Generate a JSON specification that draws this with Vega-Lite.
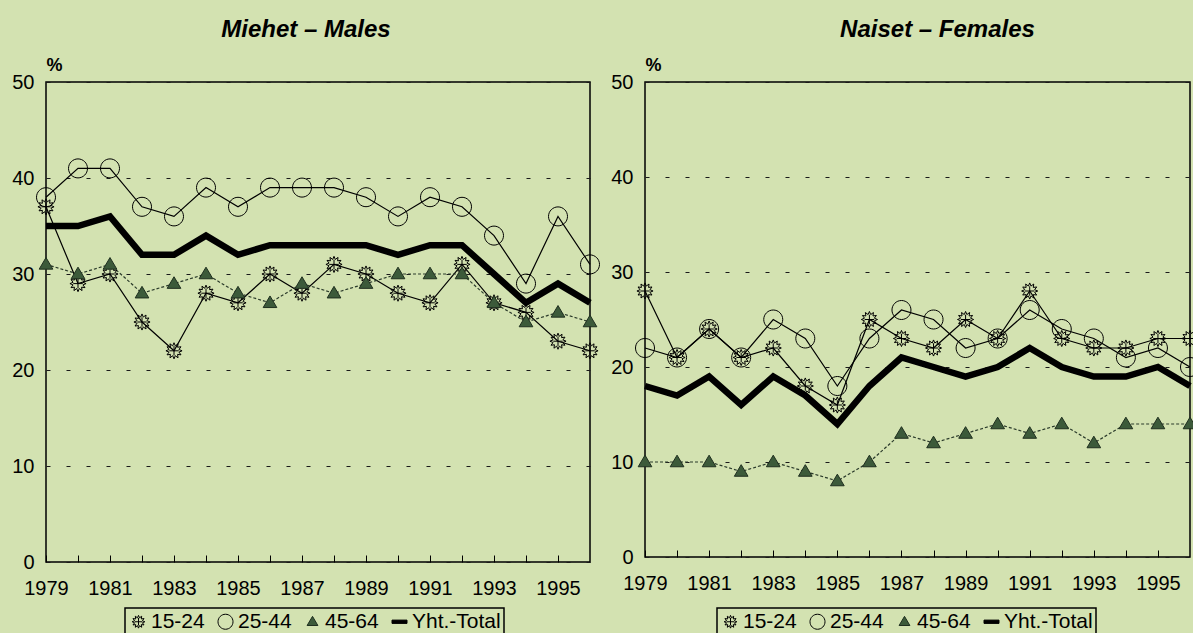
{
  "$schema": "https://vega.github.io/schema/vega-lite/v6.json",
  "background": "#d3e2b1",
  "padding": {"left": 11, "top": 17, "right": 0, "bottom": 0},
  "spacing": 6,
  "config": {
    "font": "Liberation Sans",
    "view": {"stroke": "#000000", "strokeWidth": 1.5},
    "legend": {"orient": "none", "direction": "horizontal", "strokeColor": "#000000", "strokeWidth": 1.5, "padding": 3, "labelFontSize": 21, "labelColor": "#000000", "labelOffset": 2, "columnPadding": 10, "symbolSize": 225, "symbolStrokeColor": "#000000", "symbolStrokeWidth": 1, "title": null},
    "title": {"font": "Liberation Sans", "fontStyle": "italic", "fontWeight": "bold", "fontSize": 24, "color": "#000000", "anchor": "middle", "frame": "group", "offset": 14}
  },
  "datasets": {
    "rows": [
      {"sex":"M","year":1979,"group":"15-24","value":37},{"sex":"M","year":1980,"group":"15-24","value":29},{"sex":"M","year":1981,"group":"15-24","value":30},{"sex":"M","year":1982,"group":"15-24","value":25},{"sex":"M","year":1983,"group":"15-24","value":22},{"sex":"M","year":1984,"group":"15-24","value":28},{"sex":"M","year":1985,"group":"15-24","value":27},{"sex":"M","year":1986,"group":"15-24","value":30},{"sex":"M","year":1987,"group":"15-24","value":28},{"sex":"M","year":1988,"group":"15-24","value":31},{"sex":"M","year":1989,"group":"15-24","value":30},{"sex":"M","year":1990,"group":"15-24","value":28},{"sex":"M","year":1991,"group":"15-24","value":27},{"sex":"M","year":1992,"group":"15-24","value":31},{"sex":"M","year":1993,"group":"15-24","value":27},{"sex":"M","year":1994,"group":"15-24","value":26},{"sex":"M","year":1995,"group":"15-24","value":23},{"sex":"M","year":1996,"group":"15-24","value":22},
      {"sex":"M","year":1979,"group":"25-44","value":38},{"sex":"M","year":1980,"group":"25-44","value":41},{"sex":"M","year":1981,"group":"25-44","value":41},{"sex":"M","year":1982,"group":"25-44","value":37},{"sex":"M","year":1983,"group":"25-44","value":36},{"sex":"M","year":1984,"group":"25-44","value":39},{"sex":"M","year":1985,"group":"25-44","value":37},{"sex":"M","year":1986,"group":"25-44","value":39},{"sex":"M","year":1987,"group":"25-44","value":39},{"sex":"M","year":1988,"group":"25-44","value":39},{"sex":"M","year":1989,"group":"25-44","value":38},{"sex":"M","year":1990,"group":"25-44","value":36},{"sex":"M","year":1991,"group":"25-44","value":38},{"sex":"M","year":1992,"group":"25-44","value":37},{"sex":"M","year":1993,"group":"25-44","value":34},{"sex":"M","year":1994,"group":"25-44","value":29},{"sex":"M","year":1995,"group":"25-44","value":36},{"sex":"M","year":1996,"group":"25-44","value":31},
      {"sex":"M","year":1979,"group":"45-64","value":31},{"sex":"M","year":1980,"group":"45-64","value":30},{"sex":"M","year":1981,"group":"45-64","value":31},{"sex":"M","year":1982,"group":"45-64","value":28},{"sex":"M","year":1983,"group":"45-64","value":29},{"sex":"M","year":1984,"group":"45-64","value":30},{"sex":"M","year":1985,"group":"45-64","value":28},{"sex":"M","year":1986,"group":"45-64","value":27},{"sex":"M","year":1987,"group":"45-64","value":29},{"sex":"M","year":1988,"group":"45-64","value":28},{"sex":"M","year":1989,"group":"45-64","value":29},{"sex":"M","year":1990,"group":"45-64","value":30},{"sex":"M","year":1991,"group":"45-64","value":30},{"sex":"M","year":1992,"group":"45-64","value":30},{"sex":"M","year":1993,"group":"45-64","value":27},{"sex":"M","year":1994,"group":"45-64","value":25},{"sex":"M","year":1995,"group":"45-64","value":26},{"sex":"M","year":1996,"group":"45-64","value":25},
      {"sex":"M","year":1979,"group":"Yht.-Total","value":35},{"sex":"M","year":1980,"group":"Yht.-Total","value":35},{"sex":"M","year":1981,"group":"Yht.-Total","value":36},{"sex":"M","year":1982,"group":"Yht.-Total","value":32},{"sex":"M","year":1983,"group":"Yht.-Total","value":32},{"sex":"M","year":1984,"group":"Yht.-Total","value":34},{"sex":"M","year":1985,"group":"Yht.-Total","value":32},{"sex":"M","year":1986,"group":"Yht.-Total","value":33},{"sex":"M","year":1987,"group":"Yht.-Total","value":33},{"sex":"M","year":1988,"group":"Yht.-Total","value":33},{"sex":"M","year":1989,"group":"Yht.-Total","value":33},{"sex":"M","year":1990,"group":"Yht.-Total","value":32},{"sex":"M","year":1991,"group":"Yht.-Total","value":33},{"sex":"M","year":1992,"group":"Yht.-Total","value":33},{"sex":"M","year":1993,"group":"Yht.-Total","value":30},{"sex":"M","year":1994,"group":"Yht.-Total","value":27},{"sex":"M","year":1995,"group":"Yht.-Total","value":29},{"sex":"M","year":1996,"group":"Yht.-Total","value":27},
      {"sex":"F","year":1979,"group":"15-24","value":28},{"sex":"F","year":1980,"group":"15-24","value":21},{"sex":"F","year":1981,"group":"15-24","value":24},{"sex":"F","year":1982,"group":"15-24","value":21},{"sex":"F","year":1983,"group":"15-24","value":22},{"sex":"F","year":1984,"group":"15-24","value":18},{"sex":"F","year":1985,"group":"15-24","value":16},{"sex":"F","year":1986,"group":"15-24","value":25},{"sex":"F","year":1987,"group":"15-24","value":23},{"sex":"F","year":1988,"group":"15-24","value":22},{"sex":"F","year":1989,"group":"15-24","value":25},{"sex":"F","year":1990,"group":"15-24","value":23},{"sex":"F","year":1991,"group":"15-24","value":28},{"sex":"F","year":1992,"group":"15-24","value":23},{"sex":"F","year":1993,"group":"15-24","value":22},{"sex":"F","year":1994,"group":"15-24","value":22},{"sex":"F","year":1995,"group":"15-24","value":23},{"sex":"F","year":1996,"group":"15-24","value":23},
      {"sex":"F","year":1979,"group":"25-44","value":22},{"sex":"F","year":1980,"group":"25-44","value":21},{"sex":"F","year":1981,"group":"25-44","value":24},{"sex":"F","year":1982,"group":"25-44","value":21},{"sex":"F","year":1983,"group":"25-44","value":25},{"sex":"F","year":1984,"group":"25-44","value":23},{"sex":"F","year":1985,"group":"25-44","value":18},{"sex":"F","year":1986,"group":"25-44","value":23},{"sex":"F","year":1987,"group":"25-44","value":26},{"sex":"F","year":1988,"group":"25-44","value":25},{"sex":"F","year":1989,"group":"25-44","value":22},{"sex":"F","year":1990,"group":"25-44","value":23},{"sex":"F","year":1991,"group":"25-44","value":26},{"sex":"F","year":1992,"group":"25-44","value":24},{"sex":"F","year":1993,"group":"25-44","value":23},{"sex":"F","year":1994,"group":"25-44","value":21},{"sex":"F","year":1995,"group":"25-44","value":22},{"sex":"F","year":1996,"group":"25-44","value":20},
      {"sex":"F","year":1979,"group":"45-64","value":10},{"sex":"F","year":1980,"group":"45-64","value":10},{"sex":"F","year":1981,"group":"45-64","value":10},{"sex":"F","year":1982,"group":"45-64","value":9},{"sex":"F","year":1983,"group":"45-64","value":10},{"sex":"F","year":1984,"group":"45-64","value":9},{"sex":"F","year":1985,"group":"45-64","value":8},{"sex":"F","year":1986,"group":"45-64","value":10},{"sex":"F","year":1987,"group":"45-64","value":13},{"sex":"F","year":1988,"group":"45-64","value":12},{"sex":"F","year":1989,"group":"45-64","value":13},{"sex":"F","year":1990,"group":"45-64","value":14},{"sex":"F","year":1991,"group":"45-64","value":13},{"sex":"F","year":1992,"group":"45-64","value":14},{"sex":"F","year":1993,"group":"45-64","value":12},{"sex":"F","year":1994,"group":"45-64","value":14},{"sex":"F","year":1995,"group":"45-64","value":14},{"sex":"F","year":1996,"group":"45-64","value":14},
      {"sex":"F","year":1979,"group":"Yht.-Total","value":18},{"sex":"F","year":1980,"group":"Yht.-Total","value":17},{"sex":"F","year":1981,"group":"Yht.-Total","value":19},{"sex":"F","year":1982,"group":"Yht.-Total","value":16},{"sex":"F","year":1983,"group":"Yht.-Total","value":19},{"sex":"F","year":1984,"group":"Yht.-Total","value":17},{"sex":"F","year":1985,"group":"Yht.-Total","value":14},{"sex":"F","year":1986,"group":"Yht.-Total","value":18},{"sex":"F","year":1987,"group":"Yht.-Total","value":21},{"sex":"F","year":1988,"group":"Yht.-Total","value":20},{"sex":"F","year":1989,"group":"Yht.-Total","value":19},{"sex":"F","year":1990,"group":"Yht.-Total","value":20},{"sex":"F","year":1991,"group":"Yht.-Total","value":22},{"sex":"F","year":1992,"group":"Yht.-Total","value":20},{"sex":"F","year":1993,"group":"Yht.-Total","value":19},{"sex":"F","year":1994,"group":"Yht.-Total","value":19},{"sex":"F","year":1995,"group":"Yht.-Total","value":20},{"sex":"F","year":1996,"group":"Yht.-Total","value":18}
    ]
  },
  "resolve": {"scale": {"shape": "independent", "fill": "independent", "stroke": "independent"}},
  "hconcat": [
    {
      "title": {"text": "Miehet – Males", "dx": -12},
      "width": 544,
      "height": 480,
      "data": {"name": "rows"},
      "transform": [{"filter": "datum.sex == 'M'"}],
      "encoding": {
        "x": {"field": "year", "type": "quantitative", "scale": {"domain": [1979, 1996], "nice": false, "zero": false},
              "axis": {"title": null, "domain": false, "grid": false, "tickSize": -7, "tickColor": "#000000", "tickWidth": 1, "labelFontSize": 20, "labelColor": "#000000", "labelPadding": 23, "labelFlush": false, "values": [1979,1980,1981,1982,1983,1984,1985,1986,1987,1988,1989,1990,1991,1992,1993,1994,1995], "labelExpr": "datum.value % 2 == 1 ? datum.value : ''"}},
        "y": {"field": "value", "type": "quantitative", "scale": {"domain": [0, 50], "nice": false},
              "axis": {"title": "%", "domain": false, "ticks": false, "grid": true, "gridDash": [4, 16], "gridColor": "#1a1a1a", "gridWidth": 1, "labelFontSize": 20, "labelColor": "#000000", "labelPadding": 12, "values": [0,10,20,30,40,50], "titleAngle": 0, "titleX": 8, "titleY": -17, "titleAlign": "center", "titleBaseline": "middle", "titleFontSize": 18, "titleFontWeight": "bold", "titleColor": "#000000"}}
      },
      "layer": [
        {"transform": [{"filter": {"field": "group", "oneOf": ["15-24", "25-44"]}}], "mark": {"type": "line", "color": "#000000", "strokeWidth": 1.2}, "encoding": {"detail": {"field": "group"}}},
        {"transform": [{"filter": {"field": "group", "equal": "45-64"}}], "mark": {"type": "line", "color": "#2a3a2a", "strokeWidth": 1.2, "strokeDash": [3, 2]}, "encoding": {}},
        {"transform": [{"filter": {"field": "group", "equal": "Yht.-Total"}}], "mark": {"type": "line", "color": "#000000", "strokeWidth": 6.5}, "encoding": {}},
        {"transform": [{"filter": {"field": "group", "oneOf": ["15-24", "25-44", "45-64"]}}],
         "mark": {"type": "point", "filled": true, "strokeWidth": 1, "size": 361, "opacity": 1},
         "encoding": {
           "shape": {"field": "group", "type": "nominal", "scale": {"domain": ["15-24", "25-44", "45-64", "Yht.-Total"], "range": ["M0,-0.85L0.137,-0.52L0.425,-0.736L0.375,-0.375L0.736,-0.425L0.52,-0.137L0.85,0L0.52,0.137L0.736,0.425L0.375,0.375L0.425,0.736L0.137,0.52L0,0.85L-0.137,0.52L-0.425,0.736L-0.375,0.375L-0.736,0.425L-0.52,0.137L-0.85,0L-0.52,-0.137L-0.736,-0.425L-0.375,-0.375L-0.425,-0.736L-0.137,-0.52ZM-0.5,0H0.5M0,-0.5V0.5", "M1,0A1,1,0,1,1,-1,0A1,1,0,1,1,1,0Z", "M0,-0.72L0.72,0.5L-0.72,0.5Z", "M-1,-0.22H1V0.22H-1Z"]}, "legend": {"legendX": 79, "legendY": 526}},
           "fill": {"field": "group", "type": "nominal", "scale": {"domain": ["15-24", "25-44", "45-64", "Yht.-Total"], "range": ["transparent", "transparent", "#3c5a3a", "#000000"]}, "legend": {"legendX": 79, "legendY": 526}},
           "stroke": {"field": "group", "type": "nominal", "scale": {"domain": ["15-24", "25-44", "45-64", "Yht.-Total"], "range": ["#000000", "#000000", "#1f2f1f", "#000000"]}, "legend": {"legendX": 79, "legendY": 526}}
         }}
      ]
    },
    {
      "title": {"text": "Naiset – Females", "dx": 20},
      "width": 545,
      "height": 475,
      "data": {"name": "rows"},
      "transform": [{"filter": "datum.sex == 'F'"}],
      "encoding": {
        "x": {"field": "year", "type": "quantitative", "scale": {"domain": [1979, 1996], "nice": false, "zero": false},
              "axis": {"title": null, "domain": false, "grid": false, "tickSize": -7, "tickColor": "#000000", "tickWidth": 1, "labelFontSize": 20, "labelColor": "#000000", "labelPadding": 23, "labelFlush": false, "values": [1979,1980,1981,1982,1983,1984,1985,1986,1987,1988,1989,1990,1991,1992,1993,1994,1995], "labelExpr": "datum.value % 2 == 1 ? datum.value : ''"}},
        "y": {"field": "value", "type": "quantitative", "scale": {"domain": [0, 50], "nice": false},
              "axis": {"title": "%", "domain": false, "ticks": false, "grid": true, "gridDash": [4, 16], "gridColor": "#1a1a1a", "gridWidth": 1, "labelFontSize": 20, "labelColor": "#000000", "labelPadding": 12, "values": [0,10,20,30,40,50], "titleAngle": 0, "titleX": 8, "titleY": -17, "titleAlign": "center", "titleBaseline": "middle", "titleFontSize": 18, "titleFontWeight": "bold", "titleColor": "#000000"}}
      },
      "layer": [
        {"transform": [{"filter": {"field": "group", "oneOf": ["15-24", "25-44"]}}], "mark": {"type": "line", "color": "#000000", "strokeWidth": 1.2}, "encoding": {"detail": {"field": "group"}}},
        {"transform": [{"filter": {"field": "group", "equal": "45-64"}}], "mark": {"type": "line", "color": "#2a3a2a", "strokeWidth": 1.2, "strokeDash": [3, 2]}, "encoding": {}},
        {"transform": [{"filter": {"field": "group", "equal": "Yht.-Total"}}], "mark": {"type": "line", "color": "#000000", "strokeWidth": 6.5}, "encoding": {}},
        {"transform": [{"filter": {"field": "group", "oneOf": ["15-24", "25-44", "45-64"]}}],
         "mark": {"type": "point", "filled": true, "strokeWidth": 1, "size": 361, "opacity": 1},
         "encoding": {
           "shape": {"field": "group", "type": "nominal", "scale": {"domain": ["15-24", "25-44", "45-64", "Yht.-Total"], "range": ["M0,-0.85L0.137,-0.52L0.425,-0.736L0.375,-0.375L0.736,-0.425L0.52,-0.137L0.85,0L0.52,0.137L0.736,0.425L0.375,0.375L0.425,0.736L0.137,0.52L0,0.85L-0.137,0.52L-0.425,0.736L-0.375,0.375L-0.736,0.425L-0.52,0.137L-0.85,0L-0.52,-0.137L-0.736,-0.425L-0.375,-0.375L-0.425,-0.736L-0.137,-0.52ZM-0.5,0H0.5M0,-0.5V0.5", "M1,0A1,1,0,1,1,-1,0A1,1,0,1,1,1,0Z", "M0,-0.72L0.72,0.5L-0.72,0.5Z", "M-1,-0.22H1V0.22H-1Z"]}, "legend": {"legendX": 72, "legendY": 526}},
           "fill": {"field": "group", "type": "nominal", "scale": {"domain": ["15-24", "25-44", "45-64", "Yht.-Total"], "range": ["transparent", "transparent", "#3c5a3a", "#000000"]}, "legend": {"legendX": 72, "legendY": 526}},
           "stroke": {"field": "group", "type": "nominal", "scale": {"domain": ["15-24", "25-44", "45-64", "Yht.-Total"], "range": ["#000000", "#000000", "#1f2f1f", "#000000"]}, "legend": {"legendX": 72, "legendY": 526}}
         }}
      ]
    }
  ]
}
